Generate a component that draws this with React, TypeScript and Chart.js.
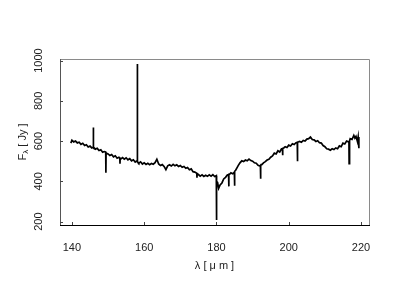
import React, { useEffect, useRef } from "react";
import { Chart, registerables } from "chart.js";

Chart.register(...registerables);

const wavelength: number[] = [
  139.7, 140.0, 140.5, 141.0, 141.5, 142.0, 142.5, 143.0, 143.5, 144.0, 144.5, 145.0, 145.5, 145.85, 145.9, 145.95, 146.0,
  146.5, 147.0, 147.5, 148.0, 148.5, 149.0, 149.35, 149.4, 149.45, 149.6, 150.0, 150.5, 151.0, 151.5, 152.0, 152.5, 153.0,
  153.25, 153.3, 153.35, 153.6, 154.0, 154.5, 155.0, 155.5, 156.0, 156.5, 157.0, 157.5, 158.0, 158.05, 158.1, 158.15, 158.3, 158.5, 159.0,
  159.5, 160.0, 160.5, 161.0, 161.5, 162.0, 162.5, 163.0, 163.5, 164.0, 164.5, 165.0, 165.5, 166.0, 166.5,
  167.0, 167.5, 168.0, 168.5, 169.0, 169.5, 170.0, 170.5, 171.0, 171.5, 172.0, 172.5, 173.0, 173.5, 174.0,
  174.55, 174.6, 174.65, 175.0, 175.5, 176.0, 176.5, 177.0, 177.5, 178.0, 178.5, 179.0, 179.5, 179.95, 180.0, 180.05, 180.3, 180.6, 181.0,
  181.5, 182.0, 182.5, 183.0, 183.35, 183.4, 183.45, 183.7, 184.0, 184.5, 184.95, 185.0, 185.05, 185.3, 185.7, 186.0, 186.5, 187.0, 187.5,
  188.0, 188.5, 189.0, 189.5, 190.0, 190.5, 191.0, 191.5, 192.0, 192.15, 192.2, 192.25, 192.5, 193.0, 193.5, 194.0, 194.5,
  195.0, 195.5, 196.0, 196.5, 197.0, 197.5, 198.0, 198.25, 198.3, 198.35, 198.6, 199.0, 199.5, 200.0, 200.5, 201.0, 201.5,
  202.0, 202.35, 202.4, 202.45, 202.7, 203.0, 203.5, 204.0, 204.5, 205.0, 205.5, 206.0, 206.5, 207.0, 207.5, 208.0, 208.5,
  209.0, 209.5, 210.0, 210.5, 211.0, 211.5, 212.0, 212.5, 213.0, 213.5, 214.0, 214.5, 215.0, 215.5, 216.0,
  216.5, 216.65, 216.7, 216.75, 216.9, 217.0, 217.5, 218.0, 218.3, 218.6, 219.0, 219.2, 219.4,
];

const flux: number[] = [
  590, 604, 596, 600, 591, 594, 584, 589, 578, 582, 571, 575, 566, 569, 668, 567, 570,
  560, 564, 553, 557, 545, 548, 545, 443, 542, 540, 536, 528, 533, 522, 527, 515, 520,
  516, 488, 514, 512, 518, 510, 517, 507, 513, 502, 507, 496, 502, 499, 983, 497, 494, 490, 497,
  486, 492, 484, 490, 483, 489, 485, 493, 510, 486, 479, 483, 474, 458, 477,
  482, 476, 484, 477, 482, 474, 479, 470, 474, 465, 469, 458, 462, 448, 446,
  440, 418, 438, 434, 426, 432, 424, 430, 425, 432, 426, 433, 424, 428, 208, 400, 395, 365, 382,
  392, 412, 420, 432, 434, 375, 435, 436, 442, 438, 445, 378, 450, 455, 468, 478, 492, 502, 498,
  506, 502, 510, 503, 500, 492, 490, 480, 476, 479, 413, 480, 482, 492, 498, 506, 510,
  520, 526, 540, 536, 552, 546, 562, 563, 530, 564, 566, 572, 568, 580, 576, 587, 583,
  592, 594, 500, 595, 596, 598, 594, 603, 600, 610, 612, 620, 608, 606, 598, 602, 592,
  590, 578, 572, 562, 560, 555, 562, 558, 566, 562, 576, 572, 590, 586, 600,
  596, 598, 488, 600, 602, 612, 608, 628, 615, 624, 598, 620, 565,
];

const xTicks: number[] = [140, 160, 180, 200, 220];
const yTicks: number[] = [200, 400, 600, 800, 1000];

const FONT = "'Liberation Sans', Arial, sans-serif";

const framePlugin = {
  id: "frame",
  afterDraw(chart: any) {
    const { ctx, chartArea } = chart;
    const { left, right, top, bottom } = chartArea;
    const xs = chart.scales.x;
    const ys = chart.scales.y;
    ctx.save();
    ctx.lineWidth = 1;
    ctx.strokeStyle = "#8a8a8a";
    ctx.beginPath();
    ctx.moveTo(left, top + 0.5);
    ctx.lineTo(right + 0.5, top + 0.5);
    ctx.lineTo(right + 0.5, bottom);
    ctx.stroke();
    ctx.strokeStyle = "#555";
    ctx.beginPath();
    ctx.moveTo(left + 0.5, top);
    ctx.lineTo(left + 0.5, bottom);
    ctx.stroke();
    ctx.strokeStyle = "#000";
    ctx.beginPath();
    ctx.moveTo(left, bottom + 0.5);
    ctx.lineTo(right + 1, bottom + 0.5);
    ctx.stroke();
    ctx.strokeStyle = "#444";
    ctx.beginPath();
    for (const v of xTicks) {
      const px = Math.round(xs.getPixelForValue(v)) + 0.5;
      ctx.moveTo(px, bottom);
      ctx.lineTo(px, bottom - 3);
    }
    for (const v of yTicks) {
      const py = Math.round(ys.getPixelForValue(v)) + 0.5;
      ctx.moveTo(left, py);
      ctx.lineTo(left + 3, py);
    }
    ctx.stroke();
    ctx.fillStyle = "#222";
    ctx.font = `11px ${FONT}`;
    ctx.textAlign = "center";
    ctx.textBaseline = "middle";
    for (const v of xTicks) {
      ctx.fillText(String(v), xs.getPixelForValue(v), bottom + 23);
    }
    for (const v of yTicks) {
      const py = ys.getPixelForValue(v);
      ctx.save();
      ctx.translate(left - 21, py);
      ctx.rotate(-Math.PI / 2);
      ctx.fillText(String(v), 0, 0);
      ctx.restore();
    }
    ctx.fillText("λ [ μ m ]", (left + right) / 2, bottom + 41);
    ctx.save();
    ctx.translate(left - 37, (top + bottom) / 2);
    ctx.rotate(-Math.PI / 2);
    const fW = ctx.measureText("F").width;
    ctx.font = `8px ${FONT}`;
    const lW = ctx.measureText("λ").width;
    ctx.font = `11px ${FONT}`;
    const rest = " [ Jy ]";
    const rW = ctx.measureText(rest).width;
    const total = fW + lW + rW;
    ctx.textAlign = "left";
    let cx = -total / 2;
    ctx.fillText("F", cx, 0);
    cx += fW;
    ctx.font = `8px ${FONT}`;
    ctx.fillText("λ", cx, 3);
    cx += lW;
    ctx.font = `11px ${FONT}`;
    ctx.fillText(rest, cx, 0);
    ctx.restore();
    ctx.restore();
  },
};

export default function App() {
  const ref = useRef<HTMLCanvasElement | null>(null);
  useEffect(() => {
    if (!ref.current) return;
    const chart = new Chart(ref.current, {
      type: "line",
      data: {
        datasets: [
          {
            data: wavelength.map((x, i) => ({ x, y: flux[i] })),
            borderColor: "#000",
            borderWidth: 1.7,
            pointRadius: 0,
            tension: 0,
            fill: false,
          },
        ],
      },
      options: {
        responsive: false,
        animation: false,
        layout: { padding: { left: 60, right: 31, top: 59, bottom: 75 } },
        plugins: { legend: { display: false }, tooltip: { enabled: false } },
        scales: {
          x: { type: "linear", min: 136.7, max: 222.2, display: false },
          y: { type: "linear", min: 183, max: 1008, display: false },
        },
      },
      plugins: [framePlugin],
    });
    return () => chart.destroy();
  }, []);
  return (
    <div style={{ position: "absolute", left: 0, top: 0, width: 400, height: 300, background: "#fff" }}>
      <canvas ref={ref} width={400} height={300} />
    </div>
  );
}
